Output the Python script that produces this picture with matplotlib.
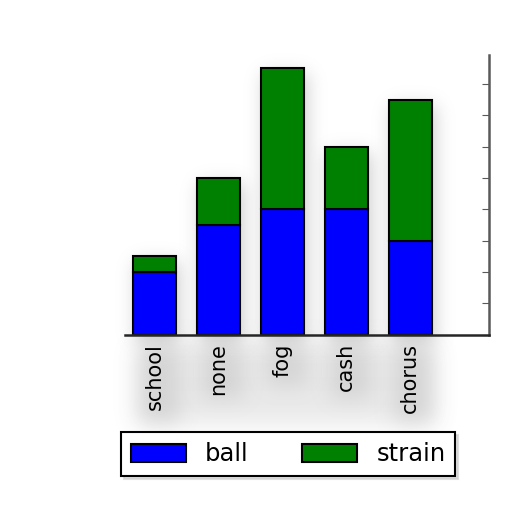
import numpy as np
import matplotlib
matplotlib.use('Agg')
import matplotlib.pyplot as plt
from matplotlib.patches import Rectangle
from matplotlib.transforms import blended_transform_factory

categories = ['school', 'none', 'fog', 'cash', 'chorus']
ball = [2, 3.5, 4, 4, 3]
strain = [0.5, 1.5, 4.5, 2, 4.5]
y_ticks = list(range(9))


def blur(a, sigma):
    r = int(3 * sigma)
    k = np.exp(-np.arange(-r, r + 1) ** 2 / (2.0 * sigma ** 2))
    k /= k.sum()
    a = np.apply_along_axis(lambda m: np.convolve(m, k, mode='same'), 0, a)
    a = np.apply_along_axis(lambda m: np.convolve(m, k, mode='same'), 1, a)
    return a


class Shadow:
    def __init__(self, sigma, alpha, gray=0.5, ox=0, oy=0):
        self.sigma = sigma
        self.alpha = alpha
        self.gray = gray
        self.ox = ox
        self.oy = oy

    def __call__(self, im, dpi):
        p = int(3 * self.sigma)
        h, w = im.shape[:2]
        a = np.zeros((h + 2 * p, w + 2 * p))
        a[p:p + h, p:p + w] = im[..., 3]
        a = blur(a, self.sigma)
        out = np.zeros((h + 2 * p, w + 2 * p, 4))
        out[..., :3] = self.gray
        out[..., 3] = np.clip(a * self.alpha, 0, 1)
        return out, -p + self.ox, -p + self.oy


fig = plt.figure(figsize=(5.12, 5.12), dpi=100)
ax = fig.add_axes([0.244, 0.346, 0.711, 0.547])

x = np.arange(len(categories))
w = 0.67

# bar shadows
sh = ax.bar(x, np.add(ball, strain), w, color='k', zorder=1)
for p in sh:
    p.set_agg_filter(Shadow(9, 0.45, gray=0.55, ox=3, oy=-6))
    p.set_rasterized(True)

b1 = ax.bar(x, ball, w, color='#0000ff', edgecolor='k', linewidth=1.5,
            label='ball', zorder=2)
b2 = ax.bar(x, strain, w, bottom=ball, color='#008000', edgecolor='k',
            linewidth=1.5, label='strain', zorder=2)

ax.set_xlim(-0.46, 5.23)
ax.set_ylim(0, 8.925)
ax.set_xticks(x)
ax.set_xticklabels(categories, rotation=90, fontsize=15)
ax.set_yticks(y_ticks)
ax.yaxis.tick_right()
ax.tick_params(axis='y', direction='in', length=5, labelright=False,
               color='0.35')
ax.tick_params(axis='x', length=0, pad=6)
ax.spines['left'].set_visible(False)
ax.spines['top'].set_visible(False)
ax.spines['right'].set_color('0.35')
ax.spines['right'].set_linewidth(1.8)
ax.spines['bottom'].set_color('0.15')
ax.spines['bottom'].set_linewidth(1.8)

# smudgy light shadow behind the tick labels
trans = blended_transform_factory(ax.transData, ax.transAxes)
band = Rectangle((-0.3, -0.30), 4.6, 0.28, transform=trans,
                 color='k', zorder=0, clip_on=False)
band.set_agg_filter(Shadow(12, 0.22, gray=0.6, ox=3, oy=-4))
band.set_rasterized(True)
ax.add_patch(band)
for xi, lab in zip(x, categories):
    hgt = 0.045 * len(lab)
    r = Rectangle((xi - 0.3, -0.02 - hgt), 0.6, hgt, transform=trans,
                  color='k', zorder=0, clip_on=False)
    r.set_agg_filter(Shadow(10, 0.25, gray=0.6, ox=4, oy=-6))
    r.set_rasterized(True)
    ax.add_patch(r)

leg = ax.legend(loc='center', bbox_to_anchor=(0.563, 0.113),
                bbox_transform=fig.transFigure, ncol=2, fontsize=17.5,
                fancybox=False, edgecolor='k', framealpha=1,
                handlelength=2.25, handleheight=0.75, columnspacing=2.2,
                borderpad=0.4, shadow={'color': '0.8', 'alpha': 0.6})
leg.get_frame().set_linewidth(1.5)

fig.savefig('out.png', dpi=100)
